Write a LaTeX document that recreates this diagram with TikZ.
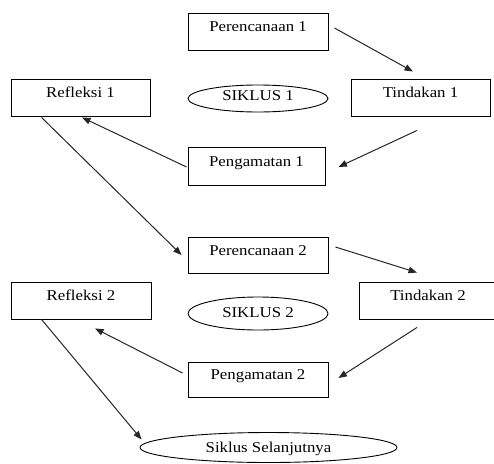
\documentclass[tikz,border=0pt]{standalone}
\usepackage{fontspec}
\setmainfont{Liberation Serif}[FakeStretch=1.12]
\usetikzlibrary{arrows.meta,calc,shapes.geometric}
\begin{document}
\begin{tikzpicture}[x=1pt,y=-1pt,
  box/.style={draw,line width=0.9pt,inner sep=0pt,text height=10pt,text depth=10pt},
  oval/.style={draw,ellipse,line width=0.9pt,inner sep=0pt,text height=10pt,text depth=10pt},
  arr/.style={line width=1pt,draw=black!85,-{Triangle[length=8.5pt,width=6.5pt]}},
  font=\fontsize{15}{18}\selectfont]
\useasboundingbox (0,0) rectangle (494,463);
% cycle 1
\node[box,minimum width=140pt,minimum height=37pt] (p1) at (258,31.5) {Perencanaan 1};
\node[box,minimum width=139pt,minimum height=37pt] (r1) at (80.5,97.5) {Refleksi 1};
\node[oval,minimum width=140pt,minimum height=27pt,text depth=7pt] (s1) at (258,98.5) {SIKLUS 1};
\node[box,minimum width=139pt,minimum height=37pt] (t1) at (420.5,97.5) {Tindakan 1};
\node[box,minimum width=137pt,minimum height=38pt] (g1) at (256.5,166) {Pengamatan 1};
% cycle 2
\node[box,minimum width=140pt,minimum height=36pt] (p2) at (258,255) {Perencanaan 2};
\node[box,minimum width=140pt,minimum height=37pt] (r2) at (81,300.5) {Refleksi 2};
\node[oval,minimum width=140pt,minimum height=33pt,text depth=3pt] (s2) at (258,313.5) {SIKLUS 2};
\node[box,minimum width=138pt,minimum height=37pt] (t2) at (428,300.5) {Tindakan 2};
\node[box,minimum width=140pt,minimum height=35pt] (g2) at (258,379.5) {Pengamatan 2};
\node[oval,minimum width=257pt,minimum height=30pt,text depth=0pt] (ss) at (268.5,447.5) {Siklus Selanjutnya};
% arrows
\draw[arr] ($(p1.east)+(6,-3.5)$) -- ($(t1.north)+(-7.5,-7)$);
\draw[arr] ($(t1.south)+(-3.5,14)$) -- ($(g1.east)+(13,1)$);
\draw[arr] ($(g1.west)+(-1,1)$) -- ($(r1.south)+(1.5,1)$);
\draw[arr] ($(r1.south west)+(31,1)$) -- ($(p2.west)+(-6,0)$);
\draw[arr] ($(p2.east)+(7,-8)$) -- ($(t2.north)+(-11,-9)$);
\draw[arr] ($(t2.south)+(-11,8)$) -- ($(g2.east)+(10,-1.5)$);
\draw[arr] ($(g2.west)+(-5,-6.5)$) -- ($(r2.south)+(14,9)$);
\draw[arr] ($(r2.south west)+(31,0)$) -- ($(ss.west)+(2,-8)$);
\end{tikzpicture}
\end{document}
